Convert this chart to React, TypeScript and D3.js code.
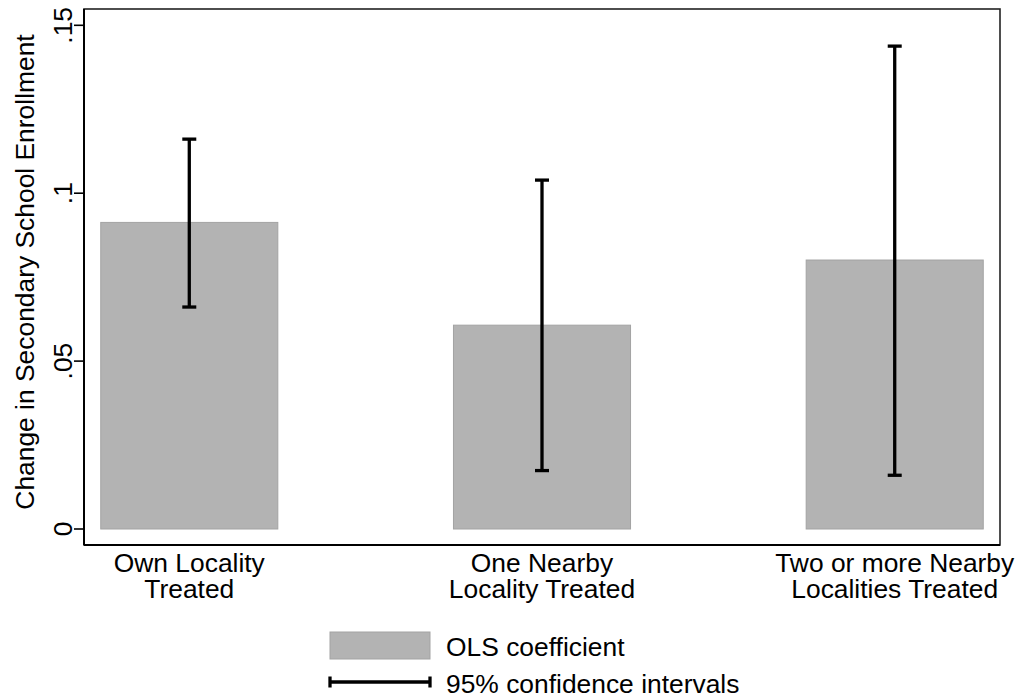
import * as d3 from "d3";

const categories = [
  ["Own Locality", "Treated"],
  ["One Nearby", "Locality Treated"],
  ["Two or more Nearby", "Localities Treated"],
];
const coefficients = [0.0913, 0.0607, 0.0801];
const ciLower = [0.0661, 0.0174, 0.0160];
const ciUpper = [0.1161, 0.1039, 0.1438];
const yTicks = [0, 0.05, 0.1, 0.15];
const yTickLabels = ["0", ".05", ".1", ".15"];

const W = 1020;
const H = 700;
const margin = { top: 9, right: 20, bottom: 155, left: 84 };
const font = "'Liberation Sans', Arial, Helvetica, sans-serif";
const fs = 26.4;
const barFill = "#b3b3b3";
const barStroke = "#a3a3a3";

export default function App() {
  const plotRight = W - margin.right;
  const plotBottom = H - margin.bottom;

  const x = d3
    .scaleBand<number>()
    .domain(categories.map((_, i) => i))
    .range([margin.left, plotRight])
    .paddingInner(0.498)
    .paddingOuter(0.0475);

  // zero sits a bit above the frame bottom, as in Stata
  const y = d3.scaleLinear().domain([0, 0.15]).range([529, 25.3]);

  const cap = 7;

  return (
    <svg
      width={W}
      height={H}
      style={{ position: "absolute", left: 0, top: 0, background: "#fff" }}
      fontFamily={font}
    >
      {/* frame */}
      <rect
        x={margin.left}
        y={margin.top}
        width={plotRight - margin.left}
        height={plotBottom - margin.top}
        fill="none"
        stroke="#222"
        strokeWidth={1.6}
      />
      <line x1={margin.left} x2={margin.left} y1={margin.top} y2={plotBottom} stroke="#000" strokeWidth={2} />
      <line x1={margin.left} x2={plotRight} y1={plotBottom} y2={plotBottom} stroke="#000" strokeWidth={2} />

      {/* y ticks */}
      {yTicks.map((t, i) => (
        <g key={i} transform={`translate(${margin.left},${y(t)})`}>
          <line x1={-10} x2={0} stroke="#000" strokeWidth={1.6} />
          <text
            transform="translate(-12,0) rotate(-90)"
            textAnchor="middle"
            fontSize={fs}
            fill="#000"
          >
            {yTickLabels[i]}
          </text>
        </g>
      ))}

      <text
        transform={`translate(34,272) rotate(-90)`}
        textAnchor="middle"
        fontSize={fs}
        fill="#000"
      >
        Change in Secondary School Enrollment
      </text>

      {/* bars */}
      {coefficients.map((v, i) => (
        <rect
          key={i}
          x={x(i)}
          y={y(v)}
          width={x.bandwidth()}
          height={y(0) - y(v)}
          fill={barFill}
          stroke={barStroke}
          strokeWidth={1}
        />
      ))}

      {/* confidence intervals */}
      {coefficients.map((_, i) => {
        const cx = (x(i) as number) + x.bandwidth() / 2;
        return (
          <g key={i} stroke="#000" strokeWidth={3.3}>
            <line x1={cx} x2={cx} y1={y(ciLower[i])} y2={y(ciUpper[i])} />
            <line x1={cx - cap} x2={cx + cap} y1={y(ciLower[i])} y2={y(ciLower[i])} />
            <line x1={cx - cap} x2={cx + cap} y1={y(ciUpper[i])} y2={y(ciUpper[i])} />
          </g>
        );
      })}

      {/* x labels */}
      {categories.map((lines, i) => {
        const cx = (x(i) as number) + x.bandwidth() / 2;
        return (
          <text key={i} x={cx} y={572} textAnchor="middle" fontSize={fs} fill="#000">
            {lines.map((l, j) => (
              <tspan key={j} x={cx} dy={j === 0 ? 0 : 26}>
                {l}
              </tspan>
            ))}
          </text>
        );
      })}

      {/* legend */}
      <rect x={330} y={632} width={100} height={27} fill={barFill} stroke={barStroke} strokeWidth={1} />
      <text x={446} y={656} fontSize={fs} fill="#000">OLS coefficient</text>
      <g stroke="#000" strokeWidth={3.3}>
        <line x1={330} x2={430} y1={682} y2={682} />
        <line x1={330} x2={330} y1={676.5} y2={687.5} />
        <line x1={430} x2={430} y1={676.5} y2={687.5} />
      </g>
      <text x={446} y={693} fontSize={fs} fill="#000">95% confidence intervals</text>
    </svg>
  );
}
